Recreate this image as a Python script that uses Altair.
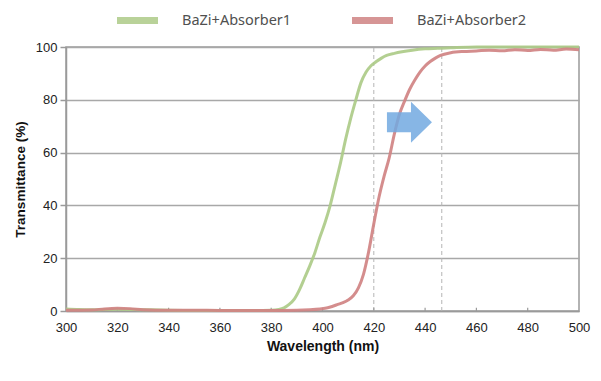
import altair as alt
import pandas as pd

# ---- data ----
series_names = ["BaZi+Absorber1", "BaZi+Absorber2"]
series_colors = ["#adcb88", "#d08383"]

wl_1 = [300, 305, 310, 320, 330, 340, 350, 360, 370, 380, 383, 385, 387, 389, 391, 393,
        395, 397, 399, 401, 403, 405, 407, 409, 411, 413, 415, 417, 419, 421, 423, 425,
        428, 431, 435, 440, 445, 450, 460, 470, 480, 490, 500]
tr_1 = [0.8, 0.6, 0.5, 0.7, 0.5, 0.3, 0.2, 0.2, 0.2, 0.3, 0.6, 1.2, 2.5, 4.5, 8, 12.5,
        17, 22, 28, 33.5, 40, 48, 56, 65, 73, 80, 86.5, 90.5, 93, 94.5, 95.8, 96.8,
        97.6, 98.2, 98.8, 99.3, 99.5, 99.7, 100, 100, 100, 100, 100]

wl_2 = [300, 310, 315, 320, 325, 330, 340, 350, 360, 370, 380, 390, 395, 399, 402, 404,
        406, 408, 410, 412, 414, 416, 418, 420, 422, 424, 426, 428, 430, 432, 434, 436,
        438, 440, 442, 444, 446, 450, 455, 460, 465, 470, 475, 480, 485, 490, 495, 500]
tr_2 = [0.3, 0.4, 0.8, 1.0, 0.9, 0.5, 0.3, 0.3, 0.2, 0.2, 0.2, 0.3, 0.5, 0.8, 1.2, 1.8,
        2.5, 3.2, 4.2, 5.8, 8.8, 14, 22.5, 33, 43, 51, 58, 67, 74.5, 79.5, 84, 87.5,
        90.5, 92.8, 94.5, 95.8, 96.8, 97.8, 98.3, 98.5, 98.8, 98.6, 99, 98.7, 99.1, 98.8, 99.2, 99]

x_ticks = [300, 320, 340, 360, 380, 400, 420, 440, 460, 480, 500]
y_ticks = [0, 20, 40, 60, 80, 100]
marker_wl = [420, 446.5]
arrow_pos = [433.9, 71.5]

curves = pd.concat([
    pd.DataFrame({"wl": wl_1, "T": tr_1, "series": series_names[0]}),
    pd.DataFrame({"wl": wl_2, "T": tr_2, "series": series_names[1]}),
])

xs = alt.Scale(domain=[300, 500], nice=False)
ys = alt.Scale(domain=[0, 100], nice=False)

x_axis = alt.Axis(values=x_ticks, title="Wavelength (nm)", ticks=False, grid=False,
                  labelPadding=10, labelFontSize=13, labelFont="Liberation Sans",
                  labelColor="#222222", titleFont="Liberation Sans", titleFontSize=14,
                  titleFontWeight="bold", titleColor="#111111", titlePadding=5,
                  domainColor="#9a9a9a", domainWidth=1.5, labelFlush=False)
y_axis = alt.Axis(values=y_ticks, title="Transmittance (%)", grid=True, gridColor="#a8a8a8",
                  gridWidth=1.5, tickSize=6, tickColor="#9a9a9a", tickWidth=1.5,
                  labelPadding=3, labelFontSize=13, labelFont="Liberation Sans",
                  labelColor="#222222", titleFont="Liberation Sans", titleFontSize=13.5,
                  titleFontWeight="bold", titleColor="#111111", titlePadding=8,
                  domainColor="#9a9a9a", domainWidth=1.5)

base = alt.Chart(curves)

dashes = alt.Chart(pd.DataFrame({"wl": marker_wl, "lo": 0, "hi": 100})).mark_rule(
    color="#b5b5b5", strokeDash=[4, 3], strokeWidth=1
).encode(x=alt.X("wl:Q", scale=xs, axis=x_axis), y=alt.Y("lo:Q", scale=ys, axis=y_axis), y2="hi:Q")

inticks = alt.Chart(pd.DataFrame({"wl": x_ticks[1:-1], "lo": 0, "hi": 1.2})).mark_rule(
    color="#9a9a9a", strokeWidth=1.2
).encode(x=alt.X("wl:Q", scale=xs), y=alt.Y("lo:Q", scale=ys), y2="hi:Q")

lines = base.mark_line(strokeWidth=3, opacity=0.92, interpolate="monotone").encode(
    x=alt.X("wl:Q", scale=xs),
    y=alt.Y("T:Q", scale=ys),
    color=alt.Color("series:N", scale=alt.Scale(domain=series_names, range=series_colors),
                    legend=alt.Legend(title=None, orient="none", legendX=47.5, legendY=-50.5,
                                      direction="horizontal", symbolType="stroke",
                                      symbolSize=1681, symbolStrokeWidth=7,
                                      symbolOpacity=0.85,
                                      labelFontSize=14.5, labelFont="Noto Sans",
                                      labelColor="#505050", labelOffset=20.5,
                                      columnPadding=46, padding=0)),
)

arrow_path = "M -1 -0.444 L 0.067 -0.444 L 0.067 -0.911 L 1 0 L 0.067 0.911 L 0.067 0.444 L -1 0.444 Z"
arrow = alt.Chart(pd.DataFrame({"wl": [arrow_pos[0]], "T": [arrow_pos[1]]})).mark_point(
    shape=arrow_path, size=2025, filled=True, color="#72a9e0", opacity=0.85, strokeWidth=0
).encode(x=alt.X("wl:Q", scale=xs), y=alt.Y("T:Q", scale=ys))

chart = alt.layer(dashes, inticks, lines, arrow).properties(
    width=513, height=264,
    autosize=alt.AutoSizeParams(type="none"),
    padding={"left": 58, "top": 39, "right": 12, "bottom": 50},
).configure_view(stroke="#9a9a9a", strokeWidth=1.5)

chart.save("out.html", embed_options={"renderer": "svg", "actions": False})
